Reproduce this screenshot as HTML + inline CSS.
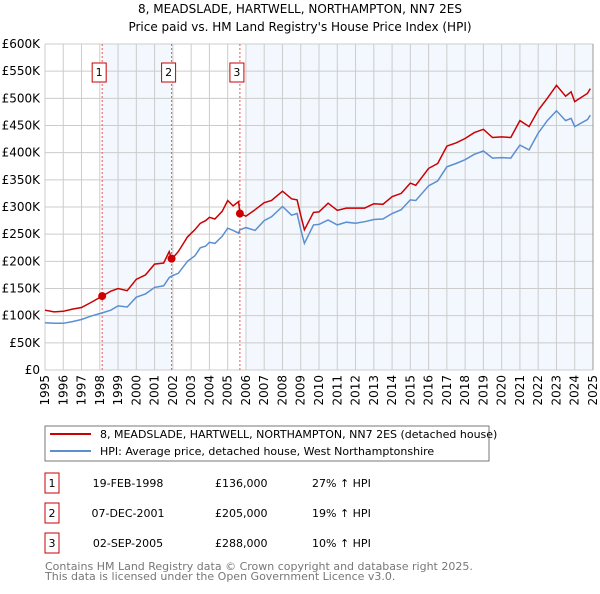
<!DOCTYPE html>
<html><head><meta charset="utf-8"><style>
body{margin:0;background:#fff;font-family:"DejaVu Sans","Liberation Sans",sans-serif;}
svg text{font-family:"DejaVu Sans","Liberation Sans",sans-serif;}
</style></head><body>
<svg id="c" width="600" height="590" xmlns="http://www.w3.org/2000/svg">
<text x="300" y="13" text-anchor="middle" font-size="12">8, MEADSLADE, HARTWELL, NORTHAMPTON, NN7 2ES</text>
<text x="300" y="31" text-anchor="middle" font-size="12">Price paid vs. HM Land Registry's House Price Index (HPI)</text>
<g id="plot"></g>
<rect x="45" y="426" width="444" height="35" fill="#fff" stroke="#777"/>
<line x1="50" y1="434" x2="91" y2="434" stroke="#cc0000" stroke-width="2"/>
<text x="100" y="438" font-size="11">8, MEADSLADE, HARTWELL, NORTHAMPTON, NN7 2ES (detached house)</text>
<line x1="50" y1="451" x2="91" y2="451" stroke="#5b8fd0" stroke-width="2"/>
<text x="100" y="455" font-size="11">HPI: Average price, detached house, West Northamptonshire</text>
<g id="tbl" font-size="11"></g>
<text x="45" y="570" font-size="11" fill="#777">Contains HM Land Registry data © Crown copyright and database right 2025.</text>
<text x="45" y="580" font-size="11" fill="#777">This data is licensed under the Open Government Licence v3.0.</text>
</svg>
<script>
const yTicks=[0,50,100,150,200,250,300,350,400,450,500,550,600];
const yTickLabels=["£0","£50K","£100K","£150K","£200K","£250K","£300K","£350K","£400K","£450K","£500K","£550K","£600K"];
const years=[1995,1996,1997,1998,1999,2000,2001,2002,2003,2004,2005,2006,2007,2008,2009,2010,2011,2012,2013,2014,2015,2016,2017,2018,2019,2020,2021,2022,2023,2024,2025];
const priceT=[1995,1995.5,1996,1996.5,1997,1997.5,1998.13,1998.6,1999,1999.5,2000,2000.5,2001,2001.5,2001.8,2001.93,2002.3,2002.8,2003.2,2003.5,2003.8,2004,2004.3,2004.7,2005,2005.3,2005.6,2005.67,2006,2006.5,2007,2007.4,2008,2008.5,2008.8,2009,2009.2,2009.7,2010,2010.5,2011,2011.5,2012,2012.5,2013,2013.5,2014,2014.5,2015,2015.3,2016,2016.5,2017,2017.5,2018,2018.5,2019,2019.5,2020,2020.5,2021,2021.5,2022,2022.5,2023,2023.5,2023.8,2024,2024.7,2024.85];
const priceV=[110,107,108,112,115,124,136,145,150,146,167,175,195,197,218,204,218,245,258,270,275,281,278,292,312,302,310,288,283,295,308,312,329,315,313,285,258,290,291,307,294,298,298,298,306,305,319,325,344,340,371,380,412,418,426,437,443,428,429,428,459,448,478,500,524,504,512,494,509,518];
const hpiV=[87,86,86,89,93,99,105,110,118,116,134,140,152,155,170,173,178,200,210,225,228,235,233,246,261,257,252,258,262,257,275,282,301,285,288,259,233,267,268,276,267,272,270,273,277,278,288,295,313,312,339,348,374,380,387,397,403,390,391,390,414,405,436,459,477,459,463,448,461,469];
const sales=[{n:"1",t:1998.13,v:136,d:"19-FEB-1998",p:"£136,000",h:"27% ↑ HPI"},{n:"2",t:2001.93,v:205,d:"07-DEC-2001",p:"£205,000",h:"19% ↑ HPI"},{n:"3",t:2005.67,v:288,d:"02-SEP-2005",p:"£288,000",h:"10% ↑ HPI"}];
const X0=45,X1=593,Y0=370,Y1=44;
const x=t=>X0+(t-1995)/30*(X1-X0);
const y=v=>Y0-v/600*(Y0-Y1);
const NS="http://www.w3.org/2000/svg";
const g=document.getElementById('plot');
function mk(tag,at,parent){const e=document.createElementNS(NS,tag);for(const k in at)e.setAttribute(k,at[k]);(parent||g).appendChild(e);return e;}
let e;
e=mk('rect',{x:x(sales[0].t),y:Y1,width:x(sales[1].t)-x(sales[0].t),height:Y0-Y1,fill:'#eef3fd',opacity:0.7});


e=mk('rect',{x:x(2006),y:Y1,width:X1-x(2006),height:Y0-Y1,fill:'#eef3fd',opacity:0.7});


yTicks.forEach((v,i)=>{
 e=mk('line',{x1:X0,x2:X1,y1:y(v),y2:y(v),stroke:'#ccc'});
 
 
 e=mk('text',{x:40,y:y(v)+4,'text-anchor':'end','font-size':12});
 e.textContent=yTickLabels[i];
 
 
});
years.forEach(yr=>{
 e=mk('line',{x1:x(yr),x2:x(yr),y1:Y1,y2:Y0,stroke:'#ccc'});
 
 
 e=mk('text',{transform:`translate(${x(yr)+4},${Y0+5}) rotate(-90)`,'text-anchor':'end','font-size':12});
 e.textContent=yr;
 
 
});
e=mk('line',{x1:X1,x2:X1,y1:Y1,y2:Y0,stroke:'#999'});


sales.forEach(s=>{
 e=mk('line',{x1:x(s.t),x2:x(s.t),y1:Y1,y2:Y0,stroke:'#e55','stroke-dasharray':'2,2'});
 
 
 e=mk('rect',{x:x(s.t)-10,y:63,width:14,height:19,fill:'#fff',stroke:'#cc0000'});
 
 
 e=mk('text',{x:x(s.t)-3,y:76,'text-anchor':'middle','font-size':11});
 e.textContent=s.n;
 
 
});
const pts=(vs)=>priceT.map((t,i)=>x(t).toFixed(1)+','+y(vs[i]).toFixed(1)).join(' ');
e=mk('polyline',{points:pts(hpiV),fill:'none',stroke:'#5b8fd0','stroke-width':1.5});


e=mk('polyline',{points:pts(priceV),fill:'none',stroke:'#cc0000','stroke-width':1.5});


sales.forEach(s=>{
 e=mk('circle',{cx:x(s.t),cy:y(s.v),r:4,fill:'#cc0000'});
 
 
});
const tb=document.getElementById('tbl');
sales.forEach((s,i)=>{
 const cy=483+i*30;
 e=mk('rect',{x:45,y:cy-10,width:14,height:20,fill:'#fff',stroke:'#cc0000'},tb);
 
 
 [[52,s.n,'middle','table-row-number'],[128,s.d,'middle','table-row-date'],[215,s.p,'start','table-row-price'],[312,s.h,'start','table-row-hpi']].forEach(c=>{
  e=mk('text',{x:c[0],y:cy+4,'text-anchor':c[2]},tb);
  e.textContent=c[1];
  
  
 });
});
</script>
</body></html>
